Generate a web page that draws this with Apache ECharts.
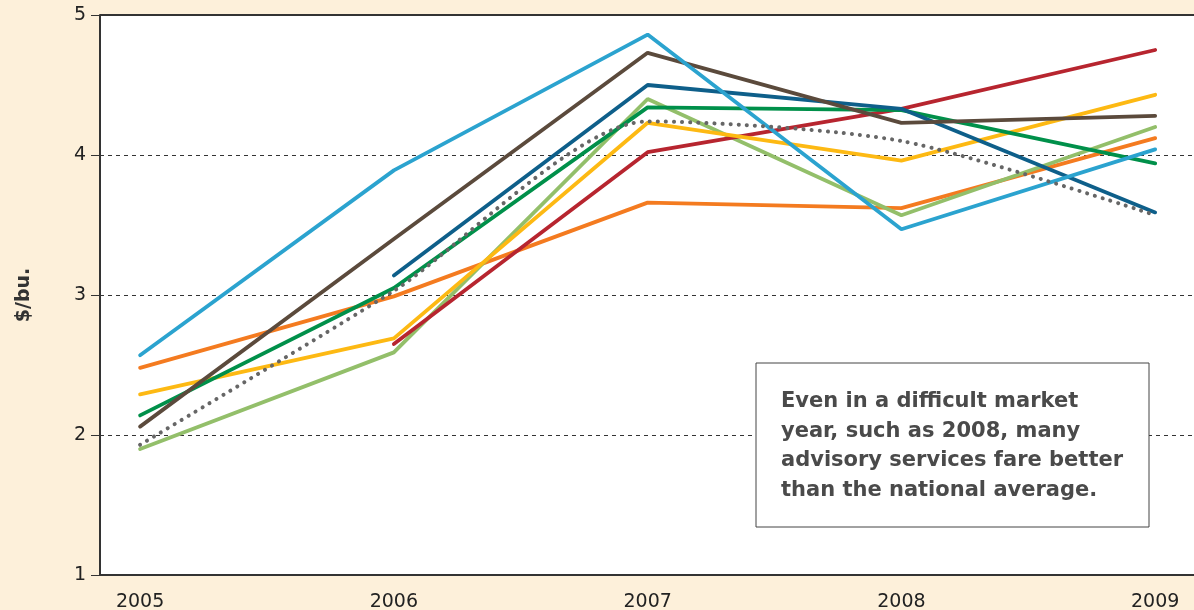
<!DOCTYPE html>
<html>
<head>
<meta charset="utf-8">
<script src="https://cdn.jsdelivr.net/npm/echarts@6/dist/echarts.min.js"></script>
<style>
html, body { margin: 0; padding: 0; background: #fdf0da; }
#chart { width: 1194px; height: 610px; }
</style>
</head>
<body>
<div id="chart"></div>
<script>
var years = [2005, 2006, 2007, 2008, 2009];
var yTicks = [1, 2, 3, 4, 5];

// advisory services, $/bu.
var lightBlue  = [2.57, 3.89, 4.86, 3.47, 4.04];
var brown      = [2.06, 3.40, 4.73, 4.23, 4.28];
var darkBlue   = [null, 3.14, 4.50, 4.33, 3.59];
var green      = [2.14, 3.05, 4.34, 4.32, 3.94];
var lightGreen = [1.90, 2.59, 4.40, 3.57, 4.20];
var yellow     = [2.29, 2.69, 4.23, 3.96, 4.43];
var red        = [null, 2.65, 4.02, 4.33, 4.75];
var orange     = [2.48, 2.99, 3.66, 3.62, 4.12];
// national average
var national   = [1.93, 3.03, 4.24, 4.10, 3.57];

var noteText = 'Even in a difficult market\nyear, such as 2008, many\nadvisory services fare better\nthan the national average.';

function pairs(vals) {
	var out = [];
	for (var i = 0; i < years.length; i++) {
		if (vals[i] != null) out.push([years[i], vals[i]]);
	}
	return out;
}

function line(vals, color, z) {
	return {
		type : 'line',
		data : pairs(vals),
		symbol : 'none',
		z : z || 2,
		lineStyle : { color : color, width : 3.8, cap : 'round' }
	};
}

var chart = echarts.init(document.getElementById('chart'));

chart.setOption({
	backgroundColor : '#fdf0da',
	animation : false,
	textStyle : { fontFamily : 'DejaVu Sans, sans-serif' },
	grid : {
		left : 100,
		right : 0,
		top : 15,
		bottom : 35,
		outerBoundsMode : 'none',
		containLabel : false,
		show : true,
		backgroundColor : '#fff',
		borderWidth : 0
	},
	xAxis : {
		type : 'value',
		min : 2004.842,
		max : 2009.153,
		axisLine : { show : true, onZero : false, lineStyle : { color : '#333', width : 2 } },
		axisTick : { show : false },
		splitLine : { show : false },
		axisLabel : {
			customValues : years,
			color : '#222',
			fontSize : 19,
			margin : 18,
			formatter : function (v) { return String(v); }
		}
	},
	yAxis : {
		type : 'value',
		min : yTicks[0],
		max : yTicks[yTicks.length - 1],
		interval : 1,
		name : '$/bu.',
		nameLocation : 'middle',
		nameRotate : 90,
		nameGap : 66,
		nameTextStyle : { fontSize : 19, fontWeight : 'bold', color : '#333' },
		axisLine : { show : true, lineStyle : { color : '#333', width : 2 } },
		axisTick : { show : true, length : 9, lineStyle : { color : '#333', width : 1 } },
		axisLabel : { color : '#222', fontSize : 19, margin : 14 },
		splitLine : { show : true, lineStyle : { color : '#333', type : [4, 4], width : 1 } }
	},
	series : [
		line(orange, '#f47b20'),
		line(lightGreen, '#93bf6a'),
		line(red, '#b7252f'),
		line(yellow, '#fdb913'),
		line(green, '#00904a'),
		line(darkBlue, '#0e5f8a'),
		line(brown, '#5b4a3c'),
		line(lightBlue, '#2ba3cf'),
		{
			type : 'line',
			data : pairs(national),
			symbol : 'none',
			smooth : 0.25,
			z : 3,
			lineStyle : { color : '#666', width : 4, type : [0.1, 8], cap : 'round' }
		}
	],
	graphic : [
		{
			type : 'line',
			shape : { x1 : 100, y1 : 15, x2 : 1194, y2 : 15 },
			style : { stroke : '#333', lineWidth : 2 },
			z : 10
		},
		{
			type : 'rect',
			shape : { x : 756, y : 363, width : 393, height : 164 },
			style : { fill : '#fff', stroke : '#444', lineWidth : 1 },
			z : 10
		},
		{
			type : 'text',
			x : 781,
			y : 387,
			z : 11,
			style : {
				text : noteText,
				fill : '#4a4a4a',
				font : 'bold 21px "DejaVu Sans", sans-serif',
				lineHeight : 29.5
			}
		}
	]
});
</script>
</body>
</html>
